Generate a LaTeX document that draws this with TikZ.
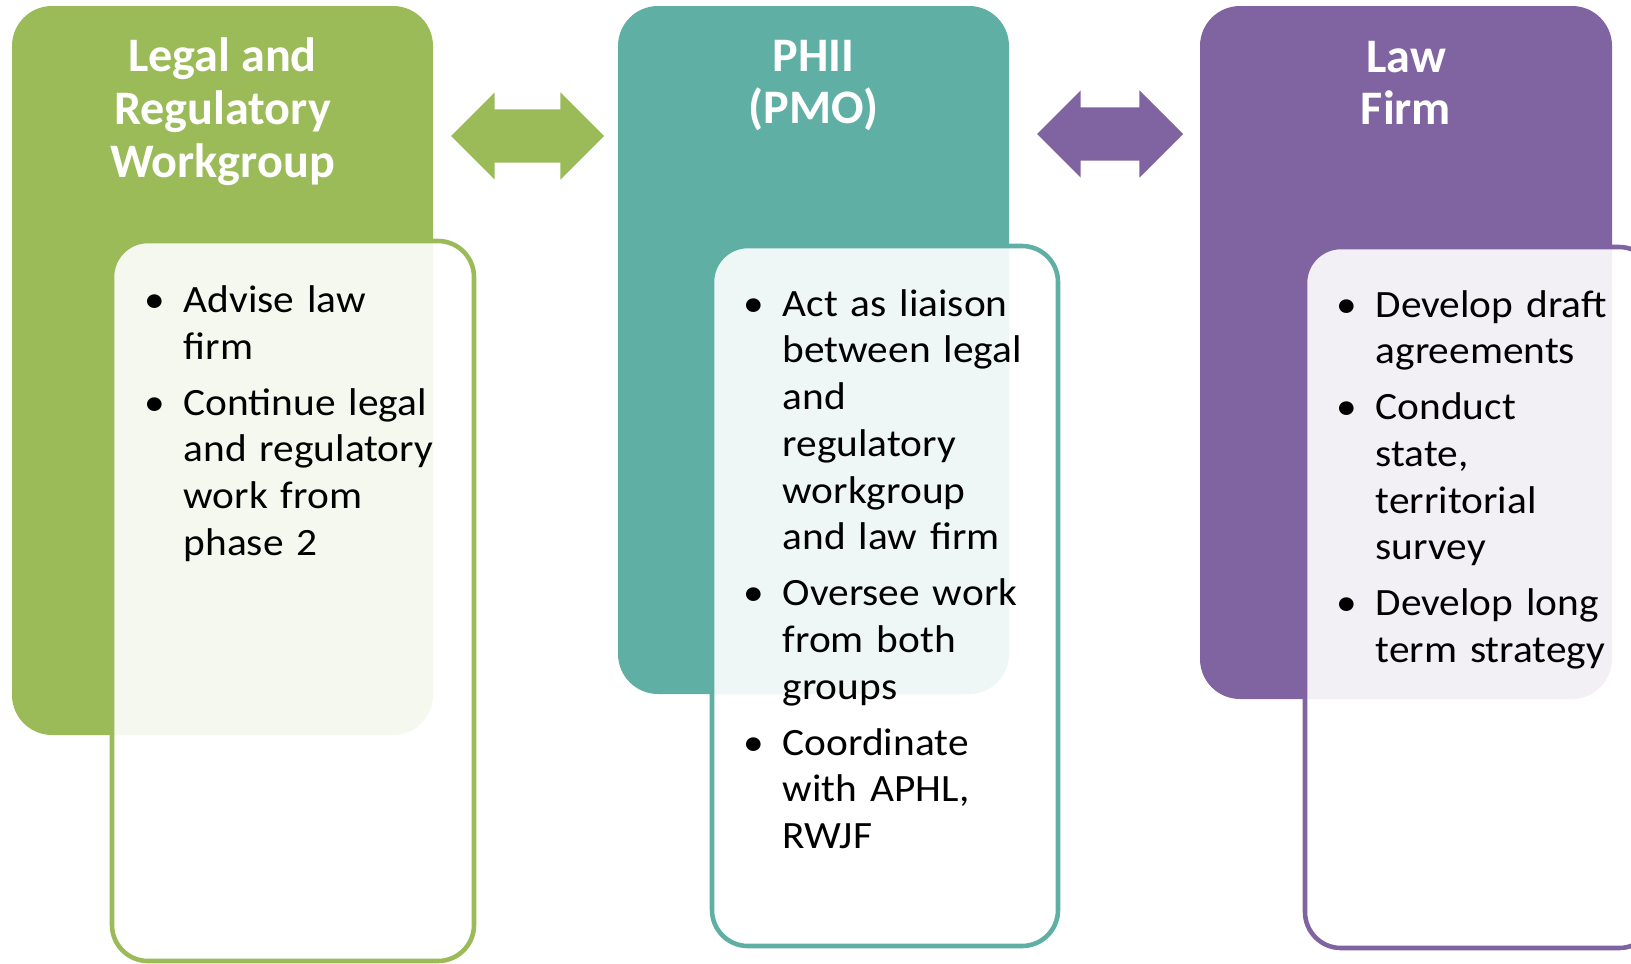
\documentclass[tikz,border=0pt]{standalone}
\usepackage{fontspec}
\setmainfont{Carlito}
\newfontfamily\bodyfont{Carlito}[FakeStretch=1.07]
\usetikzlibrary{shapes.arrows,positioning}

\definecolor{lgreen}{HTML}{9BBB59}
\definecolor{lteal}{HTML}{60AFA5}
\definecolor{lpurple}{HTML}{8064A2}

\newcommand{\bitem}{\par\noindent\llap{\textbullet\hspace{5.4pt}}}

\begin{document}
\begin{tikzpicture}[
    panel/.style={rectangle, rounded corners=0.4cm, inner sep=0pt},
    card/.style={rectangle, rounded corners=0.36cm, draw, line width=1.3pt, fill=white, fill opacity=0.9, inner sep=0pt},
    ttl/.style={text=white, align=center, inner sep=0pt, font=\fontsize{13.7}{15}\selectfont\bfseries},
    duty/.style={text width=3.6cm, align=left, inner sep=0pt, anchor=north west, font=\bodyfont\fontsize{11}{13.3}\selectfont, execute at begin node={\setlength{\parskip}{2.6pt}}},
    twoway/.style={double arrow, inner sep=0pt, text height=0.52cm, text depth=0pt, double arrow head extend=0.17cm, minimum width=0.86cm}
]
\useasboundingbox (0,0) rectangle (16.31,9.63);
\clip (0,0) rectangle (16.31,9.63);

% coloured panels
\node[panel, fill=lgreen, minimum width=4.21cm, minimum height=7.29cm] (legal) at (2.225,5.925) {};
\node[panel, fill=lteal, minimum width=3.91cm, minimum height=6.88cm] (phii) at (8.135,6.13) {};
\node[panel, fill=lpurple, minimum width=4.12cm, minimum height=6.93cm] (firm) at (14.06,6.105) {};

% outlined cards
\node[card, draw=lgreen, minimum width=3.62cm, minimum height=7.2cm] (legalcard) at (2.93,3.62) {};
\node[card, draw=lteal, minimum width=3.46cm, minimum height=7.0cm] (phiicard) at (8.85,3.67) {};
\node[card, draw=lpurple, minimum width=3.5cm, minimum height=7.01cm] (firmcard) at (14.80,3.655) {};

% two-way arrows
\node[twoway, fill=lgreen, minimum height=1.53cm] (legalphii) at (5.275,8.27) {};
\node[twoway, fill=lpurple, minimum height=1.46cm] (phiifirm) at (11.10,8.29) {};

% titles
\node[ttl, below=0.32cm of legal.north] (legalttl) {Legal and\\Regulatory\\Workgroup};
\node[ttl, below=0.34cm of phii.north] (phiittl) {PHII\\(PMO)};
\node[ttl, below=0.35cm of firm.north] (firmttl) {Law\\Firm};

% duties
\node[duty] (legaltxt) at (1.83,7.07) {%
\bitem Advise law\newline firm
\bitem Continue legal\newline and regulatory\newline work from\newline phase 2};
\node[duty] (phiitxt) at (7.82,7.035) {%
\bitem Act as liaison\newline between legal\newline and\newline regulatory\newline workgroup\newline and law firm
\bitem Oversee work\newline from both\newline groups
\bitem Coordinate\newline with APHL,\newline RWJF};
\node[duty] (firmtxt) at (13.75,7.025) {%
\bitem Develop draft\newline agreements
\bitem Conduct\newline state,\newline territorial\newline survey
\bitem Develop long\newline term strategy};

\end{tikzpicture}
\end{document}
